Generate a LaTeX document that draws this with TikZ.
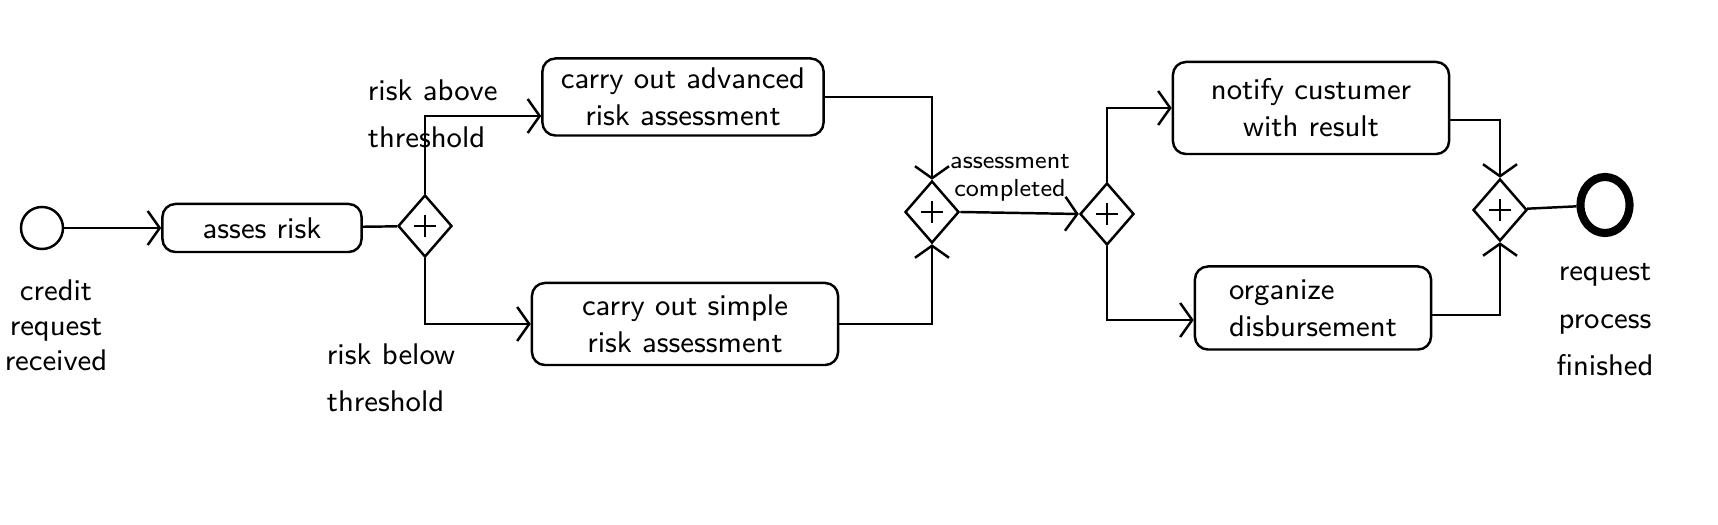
\documentclass[tikz,border=0pt]{standalone}
\usepackage{amssymb}
\usepackage{amsmath}
\usetikzlibrary{shapes.geometric,arrows.meta}

\begin{document}
\begin{tikzpicture}[x=0.01cm,y=-0.01cm,line width=0.7pt,
	>={Straight Barb[length=1.2mm,width=3.4mm]},
	every node/.style={font=\sffamily\fontsize{8.5}{10.5}\selectfont},
	task/.style={draw,rounded corners=1.3mm,align=center,inner sep=0pt},
	gate/.style={draw,diamond,minimum width=5.4mm,minimum height=6.2mm,inner sep=0pt,
		path picture={\draw (path picture bounding box.center) ++(-1.1mm,0) -- ++(2.2mm,0)
			(path picture bounding box.center) ++(0,-1.1mm) -- ++(0,2.2mm);}},
	lbl/.style={font=\sffamily\fontsize{8.5}{13.5}\selectfont}]
	\useasboundingbox (0,0) rectangle (1718,525);
	
	%events
	\node[draw,circle,minimum size=4.2mm,inner sep=0pt] (start) at (42,228) {};
	\node[draw,ellipse,line width=2.3pt,minimum width=4.9mm,minimum height=5.6mm,inner sep=0pt] (endev) at (1605,205) {};
	
	%tasks
	\node[task,minimum width=1.99cm,minimum height=4.8mm] (assess) at (262,228) {asses risk};
	\node[task,minimum width=2.81cm,minimum height=7.7mm] (adv) at (683,97) {carry out advanced\\risk assessment};
	\node[task,minimum width=3.06cm,minimum height=8.2mm] (simple) at (685,324) {carry out simple\\risk assessment};
	\node[task,minimum width=2.76cm,minimum height=9.2mm] (notify) at (1311,108) {notify custumer\\with result};
	\node[task,minimum width=2.36cm,minimum height=8.3mm,align=left] (organize) at (1313,308) {organize\\disbursement};
	
	%gateways
	\node[gate] (g1) at (425,226) {};
	\node[gate] (g2) at (932,212) {};
	\node[gate] (g3) at (1107,214) {};
	\node[gate] (g4) at (1500,210) {};
	
	%flows
	\draw[->] (start) -- (assess);
	\draw (assess) -- (g1);
	\draw[->] (g1.north) |- ([yshift=-1.9mm]adv.west);
	\draw[->] (g1.south) |- (simple.west);
	\draw[->] (adv.east) -| (g2.north);
	\draw[->] (simple.east) -| (g2.south);
	\draw[->] (g2.east) -- (g3.west);
	\draw[->] (g3.north) |- (notify.west);
	\draw[->] (g3.south) |- ([yshift=-1.2mm]organize.west);
	\draw[->] ([yshift=-1.2mm]notify.east) -| (g4.north);
	\draw[->] ([yshift=-0.7mm]organize.east) -| (g4.south);
	\draw (g4) -- (endev);
	
	%labels
	\node[align=center,font=\sffamily\fontsize{8.5}{10}\selectfont] (startlbl) at (56,325) {credit\\request\\received};
	\node[lbl,align=left,anchor=west] (abovelbl) at (355,114) {risk above\\threshold};
	\node[lbl,align=left,anchor=west] (belowlbl) at (314,378) {risk below\\threshold};
	\node[align=center,font=\sffamily\fontsize{7}{8}\selectfont] (donelbl) at (1010,178) {assessment\\completed};
	\node[lbl,align=center] (endlbl) at (1605,320) {request\\process\\finished};
\end{tikzpicture}
\end{document}
